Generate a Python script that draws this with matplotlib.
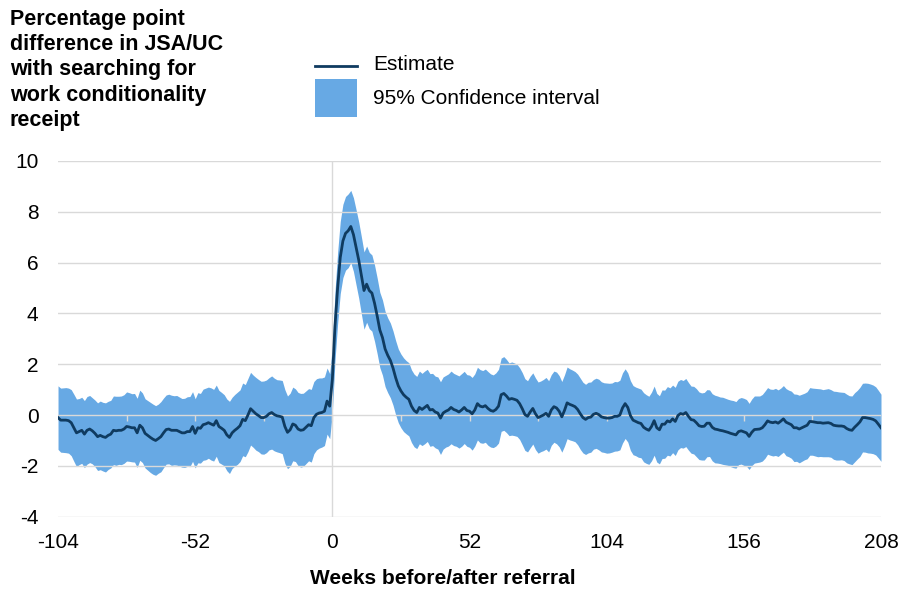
import numpy as np
import matplotlib
matplotlib.use('Agg')
import matplotlib.pyplot as plt
from matplotlib.lines import Line2D
from matplotlib.patches import Rectangle

plt.rcParams['font.family'] = ['Liberation Sans', 'DejaVu Sans']
plt.rcParams['axes.unicode_minus'] = False

# weeks before/after referral
weeks = np.arange(-104, 209)

# percentage point difference (estimate), one value per week
estimate = [
    -0.10, -0.20, -0.20, -0.20, -0.22, -0.30, -0.50, -0.70, -0.65, -0.60,   # -104..-95
    -0.75, -0.60, -0.55, -0.62, -0.72, -0.85, -0.80, -0.85, -0.88, -0.80,   # -94..-85
    -0.75, -0.60, -0.62, -0.60, -0.60, -0.55, -0.45, -0.47, -0.50, -0.50,   # -84..-75
    -0.70, -0.40, -0.50, -0.72, -0.80, -0.88, -0.95, -1.00, -0.93, -0.85,   # -74..-65
    -0.70, -0.57, -0.55, -0.60, -0.60, -0.60, -0.65, -0.70, -0.70, -0.65,   # -64..-55
    -0.65, -0.45, -0.72, -0.50, -0.52, -0.38, -0.35, -0.30, -0.35, -0.40,   # -54..-45
    -0.22, -0.45, -0.52, -0.60, -0.78, -0.88, -0.70, -0.60, -0.52, -0.42,   # -44..-35
    -0.17, -0.22, 0.00, 0.25, 0.15, 0.05, -0.02, -0.10, -0.10, -0.05,       # -34..-25
    0.05, 0.10, 0.02, -0.03, -0.05, -0.08, -0.45, -0.68, -0.58, -0.35,      # -24..-15
    -0.40, -0.55, -0.60, -0.58, -0.48, -0.38, -0.42, -0.10, 0.03, 0.08,     # -14..-5
    0.10, 0.15, 0.55, 0.35, 1.40, 3.50, 5.00, 6.20, 6.85, 7.15,             # -4..5
    7.25, 7.42, 7.10, 6.60, 6.10, 5.50, 4.90, 5.15, 4.90, 4.80,             # 6..15
    4.40, 3.90, 3.35, 3.05, 2.60, 2.35, 2.15, 1.85, 1.47, 1.15,             # 16..25
    0.95, 0.80, 0.70, 0.62, 0.35, 0.18, 0.10, 0.30, 0.22, 0.30,             # 26..35
    0.38, 0.20, 0.22, 0.12, 0.08, -0.12, 0.08, 0.15, 0.20, 0.30,            # 36..45
    0.22, 0.18, 0.12, 0.20, 0.30, 0.18, 0.15, 0.05, 0.20, 0.45,             # 46..55
    0.35, 0.32, 0.37, 0.26, 0.18, 0.15, 0.22, 0.35, 0.80, 0.85,             # 56..65
    0.75, 0.62, 0.65, 0.62, 0.58, 0.45, 0.25, 0.02, -0.05, 0.12,            # 66..75
    0.26, 0.05, -0.10, -0.05, 0.00, 0.07, -0.05, 0.20, 0.33, 0.28,          # 76..85
    0.15, -0.07, 0.18, 0.48, 0.42, 0.38, 0.33, 0.22, 0.05, -0.10,           # 86..95
    -0.17, -0.10, -0.08, 0.03, 0.07, 0.02, -0.07, -0.10, -0.12, -0.12,      # 96..105
    -0.10, -0.05, -0.05, 0.00, 0.28, 0.45, 0.30, -0.02, -0.20, -0.25,       # 106..115
    -0.30, -0.33, -0.48, -0.55, -0.60, -0.45, -0.22, -0.50, -0.58, -0.36,   # 116..125
    -0.36, -0.23, -0.27, -0.15, -0.25, -0.02, 0.06, 0.03, 0.10, -0.05,      # 126..135
    -0.18, -0.20, -0.30, -0.42, -0.45, -0.44, -0.32, -0.32, -0.48, -0.55,   # 136..145
    -0.57, -0.60, -0.62, -0.65, -0.68, -0.72, -0.75, -0.78, -0.65, -0.62,   # 146..155
    -0.66, -0.70, -0.84, -0.68, -0.57, -0.56, -0.55, -0.50, -0.38, -0.23,   # 156..165
    -0.28, -0.30, -0.27, -0.32, -0.24, -0.15, -0.28, -0.33, -0.38, -0.50,   # 166..175
    -0.50, -0.55, -0.50, -0.45, -0.40, -0.25, -0.26, -0.28, -0.30, -0.30,   # 176..185
    -0.32, -0.31, -0.30, -0.33, -0.40, -0.42, -0.43, -0.43, -0.45, -0.53,   # 186..195
    -0.58, -0.60, -0.48, -0.38, -0.27, -0.10, -0.10, -0.12, -0.14, -0.17,   # 196..205
    -0.23, -0.36, -0.50,                                                    # 206..208
]

# half-width of the 95% confidence interval, one value per week
ci_half = [
    1.25, 1.26, 1.27, 1.28, 1.28, 1.30, 1.32, 1.33, 1.30, 1.30,
    1.32, 1.33, 1.32, 1.30, 1.31, 1.33, 1.35, 1.35, 1.36, 1.34,
    1.33, 1.35, 1.36, 1.34, 1.35, 1.35, 1.36, 1.35, 1.34, 1.35,
    1.36, 1.38, 1.37, 1.36, 1.37, 1.38, 1.38, 1.37, 1.36, 1.38,
    1.37, 1.36, 1.37, 1.38, 1.36, 1.37, 1.36, 1.35, 1.36, 1.37,
    1.38, 1.37, 1.36, 1.38, 1.37, 1.40, 1.41, 1.40, 1.42, 1.41,
    1.40, 1.42, 1.41, 1.40, 1.41, 1.42, 1.40, 1.41, 1.42, 1.41,
    1.43, 1.42, 1.44, 1.43, 1.42, 1.43, 1.42, 1.43, 1.44, 1.43,
    1.42, 1.44, 1.43, 1.42, 1.43, 1.44, 1.45, 1.43, 1.44, 1.45,
    1.43, 1.44, 1.45, 1.44, 1.43, 1.42, 1.43, 1.42, 1.40, 1.38,
    1.36, 1.35, 1.30, 1.28, 1.30, 1.35, 1.40, 1.42, 1.44, 1.45,
    1.45, 1.42, 1.45, 1.48, 1.50, 1.52, 1.52, 1.50, 1.50, 1.50,
    1.50, 1.49, 1.48, 1.48, 1.48, 1.47, 1.47, 1.46, 1.46, 1.45,
    1.45, 1.45, 1.44, 1.44, 1.43, 1.43, 1.42, 1.43, 1.42, 1.43,
    1.42, 1.43, 1.42, 1.41, 1.42, 1.43, 1.42, 1.41, 1.42, 1.43,
    1.42, 1.41, 1.42, 1.43, 1.42, 1.41, 1.42, 1.43, 1.42, 1.43,
    1.44, 1.43, 1.44, 1.45, 1.44, 1.43, 1.44, 1.45, 1.44, 1.45,
    1.44, 1.43, 1.44, 1.43, 1.42, 1.41, 1.42, 1.41, 1.40, 1.41,
    1.40, 1.41, 1.40, 1.39, 1.40, 1.41, 1.40, 1.39, 1.40, 1.41,
    1.40, 1.39, 1.40, 1.41, 1.40, 1.39, 1.38, 1.39, 1.40, 1.39,
    1.38, 1.39, 1.38, 1.37, 1.38, 1.39, 1.38, 1.37, 1.38, 1.37,
    1.36, 1.37, 1.36, 1.37, 1.38, 1.37, 1.36, 1.37, 1.36, 1.35,
    1.36, 1.35, 1.36, 1.35, 1.34, 1.35, 1.36, 1.35, 1.34, 1.35,
    1.34, 1.35, 1.34, 1.33, 1.34, 1.35, 1.34, 1.33, 1.34, 1.33,
    1.32, 1.33, 1.34, 1.33, 1.32, 1.33, 1.32, 1.31, 1.32, 1.33,
    1.32, 1.31, 1.32, 1.31, 1.30, 1.31, 1.32, 1.31, 1.30, 1.31,
    1.32, 1.31, 1.30, 1.31, 1.32, 1.31, 1.30, 1.31, 1.32, 1.31,
    1.30, 1.31, 1.32, 1.31, 1.30, 1.31, 1.32, 1.31, 1.32, 1.33,
    1.32, 1.33, 1.32, 1.31, 1.32, 1.33, 1.32, 1.33, 1.34, 1.33,
    1.32, 1.33, 1.34, 1.33, 1.34, 1.35, 1.34, 1.33, 1.34, 1.35,
    1.34, 1.35, 1.36, 1.35, 1.36, 1.35, 1.36, 1.37, 1.36, 1.35,
    1.34, 1.33, 1.32,
]

xticks = [-104, -52, 0, 52, 104, 156, 208]
yticks = [-4, -2, 0, 2, 4, 6, 8, 10]

LINE_COL = '#0F3B60'
BAND_COL = '#67A9E4'
GRID_COL = '#D9D9D9'

est = np.array(estimate)
half = np.array(ci_half)

fig = plt.figure(figsize=(9.01, 5.90), dpi=100, facecolor='white')
ax = fig.add_axes([0.0644, 0.1242, 0.9134, 0.6031])

ax.fill_between(weeks, est - half, est + half, color=BAND_COL, linewidth=0, zorder=1)
for y in yticks:
    ax.axhline(y, color=GRID_COL, linewidth=1.0, zorder=2)
ax.axvline(0, color=GRID_COL, linewidth=1.0, zorder=2)
# small tick marks along the zero line every 26 weeks
ax.vlines(np.arange(-78, 209, 26), -0.22, 0, color=GRID_COL, linewidth=1.0, zorder=2)
ax.plot(weeks, est, color=LINE_COL, linewidth=2.0, zorder=3)

ax.set_xlim(-104, 208)
ax.set_ylim(-4, 10)
ax.set_xticks(xticks)
ax.set_xticklabels([str(t) for t in xticks])
ax.set_yticks(yticks)
ax.set_yticklabels([str(t) for t in yticks])
ax.tick_params(axis='both', length=0, labelsize=15, colors='black')
ax.tick_params(axis='x', pad=12)
ax.tick_params(axis='y', pad=14)
for s in ax.spines.values():
    s.set_visible(False)

fig.text(443 / 901, 1 - 578 / 590, 'Weeks before/after referral',
         ha='center', va='center', fontsize=15, fontweight='bold')

fig.text(0.011, 0.985,
         'Percentage point\ndifference in JSA/UC\nwith searching for\nwork conditionality\nreceipt',
         ha='left', va='top', fontsize=15.5, fontweight='bold', linespacing=1.27)

# legend, drawn by hand
fig.add_artist(Line2D([315 / 901, 357 / 901], [1 - 66 / 590, 1 - 66 / 590],
                      color=LINE_COL, linewidth=2.0))
fig.add_artist(Rectangle((315 / 901, 1 - 117 / 590), 42 / 901, 38 / 590,
                         facecolor=BAND_COL, edgecolor='none'))
fig.text(373 / 901, 1 - 65 / 590, 'Estimate', ha='left', va='center', fontsize=15)
fig.text(373 / 901, 1 - 99 / 590, '95% Confidence interval', ha='left', va='center', fontsize=15)

fig.savefig('out.png', dpi=100, facecolor='white')
